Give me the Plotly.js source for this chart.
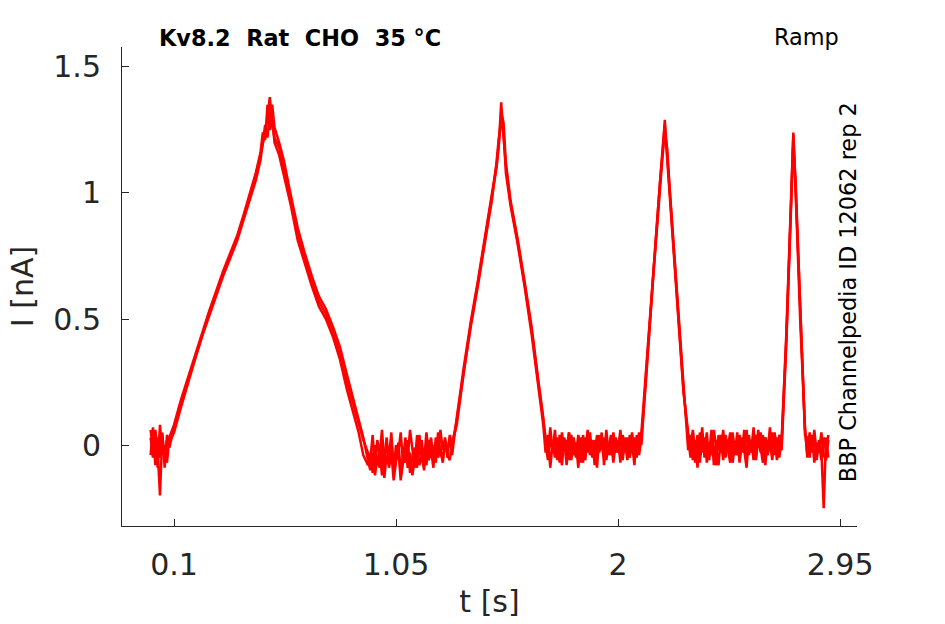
<!DOCTYPE html>
<html>
<head>
<meta charset="utf-8">
<script src="https://cdn.plot.ly/plotly-3.0.1.min.js"></script>
<style>
  html, body { margin: 0; padding: 0; background: #fff; }
  #plot { width: 945px; height: 624px; }
</style>
</head>
<body>
<div id="plot"></div>
<script>
// time samples (s): dense on the flat parts, sparser on the ramps
var t = [0.00, 0.01, 0.02, 0.03, 0.04, 0.05, 0.06, 0.07, 0.08,
  0.10, 0.13, 0.16, 0.19, 0.22, 0.25, 0.28, 0.31, 0.34, 0.37, 0.40, 0.43,
  0.45, 0.47, 0.48, 0.49, 0.50, 0.51, 0.52, 0.53, 0.55, 0.57,
  0.60, 0.63, 0.66, 0.69, 0.72, 0.75, 0.78, 0.81, 0.84, 0.87, 0.89, 0.91, 0.93,
  0.94, 0.95, 0.96, 0.97, 0.98, 0.99, 1.00, 1.01, 1.02, 1.03, 1.04, 1.05, 1.06, 1.07, 1.08, 1.09, 1.10, 1.11,
  1.12, 1.13, 1.14, 1.15, 1.16, 1.17, 1.18, 1.19, 1.20, 1.21, 1.22, 1.23, 1.24, 1.25, 1.26, 1.27, 1.28, 1.29,
  1.31, 1.34, 1.37, 1.40, 1.43, 1.46, 1.48, 1.49, 1.50, 1.51, 1.52, 1.54, 1.57, 1.60, 1.63, 1.66, 1.68,
  1.69, 1.70, 1.71, 1.72, 1.73, 1.74, 1.75, 1.76, 1.77, 1.78, 1.79, 1.80, 1.81, 1.82, 1.83, 1.84, 1.85, 1.86, 1.87, 1.88, 1.89,
  1.90, 1.91, 1.92, 1.93, 1.94, 1.95, 1.96, 1.97, 1.98, 1.99, 2.00, 2.01, 2.02, 2.03, 2.04, 2.05, 2.06, 2.07, 2.08, 2.09, 2.10,
  2.12, 2.15, 2.18, 2.19, 2.20, 2.21, 2.22, 2.25, 2.28, 2.30,
  2.31, 2.32, 2.33, 2.34, 2.35, 2.36, 2.37, 2.38, 2.39, 2.40, 2.41, 2.42, 2.43, 2.44, 2.45, 2.46, 2.47, 2.48, 2.49, 2.50,
  2.51, 2.52, 2.53, 2.54, 2.55, 2.56, 2.57, 2.58, 2.59, 2.60, 2.61, 2.62, 2.63, 2.64, 2.65, 2.66, 2.67, 2.68, 2.69, 2.70,
  2.72, 2.74, 2.75, 2.76, 2.78, 2.80,
  2.81, 2.82, 2.83, 2.84, 2.85, 2.86, 2.87, 2.88, 2.89, 2.90];

// current (nA) of the three overlaid sweeps
var sweep1 = [0.03, -0.05, 0.06, -0.02, -0.20, 0.04, -0.06, 0.02, -0.01,
  0.07, 0.17, 0.26, 0.35, 0.44, 0.52, 0.60, 0.68, 0.75, 0.82, 0.91, 1.00,
  1.07, 1.15, 1.19, 1.24, 1.30, 1.38, 1.27, 1.22, 1.18, 1.10,
  0.97, 0.83, 0.74, 0.65, 0.57, 0.52, 0.45, 0.36, 0.25, 0.15, 0.08, 0.02, -0.03,
  -0.06, 0.04, -0.09, 0.02, -0.04, 0.06, -0.08, 0.01, -0.05, 0.05, -0.10, 0.00, -0.03, 0.05, -0.07, 0.03, -0.05, 0.06,
  -0.02, -0.09, 0.04, -0.04, 0.02, -0.07, 0.05, -0.03, 0.03, -0.06, 0.01, -0.04, 0.06, -0.02, 0.03, -0.05, 0.04, 0.00,
  0.10, 0.30, 0.48, 0.64, 0.81, 0.98, 1.10, 1.19, 1.36, 1.22, 1.11, 0.96, 0.81, 0.64, 0.46, 0.24, 0.10,
  0.05, -0.04, 0.07, -0.02, 0.03, -0.06, 0.04, -0.03, 0.02, -0.08, 0.05, -0.01, 0.03, -0.05, 0.01, -0.07, 0.04, -0.02, 0.06, -0.04, 0.00,
  -0.06, 0.03, -0.03, 0.05, -0.08, 0.02, -0.01, 0.04, -0.05, 0.03, -0.02, 0.06, -0.04, 0.01, -0.06, 0.04, -0.02, 0.03, -0.05, 0.05, 0.00,
  0.28, 0.68, 1.05, 1.15, 1.29, 1.16, 1.02, 0.62, 0.22, 0.03,
  -0.05, 0.06, -0.03, 0.04, -0.07, 0.02, -0.02, 0.05, -0.06, 0.03, -0.01, -0.08, 0.04, -0.03, 0.06, -0.05, 0.02, -0.04, 0.05, -0.02,
  0.03, -0.07, 0.01, -0.03, 0.06, -0.04, 0.02, -0.06, 0.04, -0.01, 0.05, -0.05, 0.03, -0.02, 0.07, -0.04, 0.02, -0.06, 0.04, 0.01,
  0.42, 0.95, 1.24, 1.02, 0.50, 0.06,
  -0.04, 0.05, -0.03, 0.04, -0.06, 0.02, -0.02, -0.25, 0.03, -0.05];

var sweep2 = [-0.04, 0.07, -0.08, 0.03, -0.05, 0.05, -0.09, 0.04, 0.01,
  0.05, 0.15, 0.25, 0.34, 0.43, 0.51, 0.59, 0.67, 0.74, 0.81, 0.90, 0.99,
  1.05, 1.13, 1.20, 1.27, 1.22, 1.31, 1.35, 1.26, 1.20, 1.13,
  0.99, 0.86, 0.76, 0.67, 0.59, 0.54, 0.47, 0.39, 0.28, 0.17, 0.10, 0.03, -0.06,
  -0.10, -0.03, -0.12, -0.05, -0.09, 0.01, -0.13, -0.04, -0.08, 0.02, -0.11, -0.06, -0.02, -0.14, -0.07, 0.00, -0.09, -0.03,
  -0.12, -0.05, 0.01, -0.08, -0.04, -0.10, 0.00, -0.06, -0.02, -0.09, 0.03, -0.05, -0.01, -0.07, 0.02, -0.04, -0.06, 0.01,
  0.08, 0.29, 0.47, 0.63, 0.80, 0.97, 1.12, 1.22, 1.27, 1.25, 1.08, 0.95, 0.80, 0.63, 0.44, 0.22, 0.08,
  -0.03, 0.04, -0.09, 0.01, -0.05, 0.03, -0.07, 0.05, -0.02, 0.02, -0.06, 0.04, -0.04, 0.01, -0.09, 0.03, -0.01, -0.06, 0.05, -0.03, 0.02,
  -0.08, 0.04, -0.02, 0.00, -0.05, 0.06, -0.04, 0.02, -0.07, 0.01, -0.03, 0.04, -0.06, 0.03, -0.01, -0.05, 0.05, -0.03, 0.02, -0.04, 0.03,
  0.26, 0.66, 1.04, 1.14, 1.24, 1.18, 1.03, 0.63, 0.23, -0.02,
  0.04, -0.06, 0.02, -0.09, 0.05, -0.03, 0.03, -0.07, 0.01, -0.04, 0.06, -0.02, -0.08, 0.03, -0.05, 0.04, -0.01, -0.07, 0.02, -0.04,
  0.05, -0.06, 0.03, -0.02, -0.09, 0.04, -0.03, 0.02, -0.05, 0.06, -0.01, -0.07, 0.03, -0.04, 0.01, -0.06, 0.05, -0.03, 0.02, -0.02,
  0.40, 0.93, 1.20, 1.04, 0.52, 0.04,
  0.03, -0.05, 0.04, -0.07, 0.01, -0.03, 0.05, -0.04, -0.06, 0.02];

var sweep3 = [0.06, -0.02, 0.02, -0.09, 0.08, -0.03, 0.00, -0.07, 0.03,
  0.08, 0.18, 0.27, 0.36, 0.45, 0.53, 0.61, 0.69, 0.76, 0.83, 0.92, 1.01,
  1.08, 1.16, 1.24, 1.21, 1.35, 1.25, 1.30, 1.20, 1.15, 1.07,
  0.95, 0.81, 0.72, 0.63, 0.55, 0.50, 0.43, 0.34, 0.22, 0.12, 0.05, -0.04, -0.08,
  -0.04, -0.11, 0.00, -0.08, -0.02, -0.12, -0.05, 0.03, -0.09, -0.03, -0.14, -0.06, 0.01, -0.10, -0.04, -0.07, 0.02, -0.11,
  -0.05, -0.01, -0.09, 0.04, -0.06, -0.03, -0.08, 0.02, -0.05, 0.00, -0.07, 0.05, -0.03, -0.06, 0.01, -0.02, 0.03, -0.04,
  0.11, 0.31, 0.49, 0.65, 0.82, 0.99, 1.11, 1.20, 1.32, 1.28, 1.12, 0.97, 0.82, 0.65, 0.47, 0.25, 0.11,
  0.01, -0.06, 0.04, -0.03, 0.06, -0.05, 0.00, -0.08, 0.03, -0.02, 0.05, -0.06, 0.02, -0.04, 0.04, -0.01, -0.07, 0.03, -0.03, 0.05, -0.05,
  0.02, -0.09, 0.04, -0.02, 0.03, -0.06, 0.01, -0.04, 0.05, -0.03, 0.02, -0.07, 0.04, -0.01, 0.03, -0.05, 0.01, -0.08, 0.04, -0.02, 0.05,
  0.30, 0.70, 1.06, 1.17, 1.27, 1.14, 1.01, 0.61, 0.21, 0.05,
  -0.02, 0.05, -0.07, 0.03, -0.04, 0.07, -0.05, 0.01, -0.03, 0.06, -0.08, 0.02, -0.02, 0.04, -0.06, 0.03, -0.01, 0.05, -0.07, 0.00,
  -0.04, 0.04, -0.03, 0.06, -0.05, 0.02, -0.02, 0.07, -0.06, 0.03, -0.03, 0.04, -0.08, 0.02, -0.01, 0.05, -0.04, 0.03, -0.05, 0.02,
  0.44, 0.97, 1.23, 1.00, 0.48, 0.07,
  -0.05, 0.04, -0.02, 0.06, -0.04, 0.01, -0.06, 0.03, -0.02, 0.04];

var sweeps = [sweep1, sweep2, sweep3];

var x_ticks = [0.1, 1.05, 2, 2.95];
var x_labels = ['0.1', '1.05', '2', '2.95'];
var y_ticks = [0, 0.5, 1, 1.5];
var y_labels = ['0', '0.5', '1', '1.5'];

var data = [];
for (var i = 0; i < sweeps.length; i++) {
  data.push({
    x: t,
    y: sweeps[i],
    type: 'scatter',
    mode: 'lines',
    line: {color: '#ff0000', width: 2.5},
    hoverinfo: 'skip'
  });
}

var axis_font = {family: 'DejaVu Sans', size: 30, color: '#262626'};
var note_font = {family: 'DejaVu Sans', size: 22.4, color: '#000000'};
var nb = '\u00a0\u00a0';

var layout = {
  width: 945,
  height: 624,
  margin: {l: 122, r: 88, t: 47, b: 98},
  paper_bgcolor: '#ffffff',
  plot_bgcolor: '#ffffff',
  showlegend: false,
  font: {family: 'DejaVu Sans', color: '#262626'},
  xaxis: {
    range: [-0.1225, 3.0225],
    tickvals: x_ticks,
    ticktext: x_labels,
    ticks: 'inside',
    ticklen: 7,
    tickcolor: '#262626',
    tickfont: axis_font,
    ticklabelstandoff: 12,
    showline: true,
    linecolor: '#262626',
    linewidth: 1,
    showgrid: false,
    zeroline: false,
    title: {text: 't [s]', font: axis_font, standoff: 9}
  },
  yaxis: {
    range: [-0.321, 1.579],
    tickvals: y_ticks,
    ticktext: y_labels,
    ticks: 'inside',
    ticklen: 7,
    tickcolor: '#262626',
    tickfont: axis_font,
    ticklabelstandoff: 14,
    showline: true,
    linecolor: '#262626',
    linewidth: 1,
    showgrid: false,
    zeroline: false,
    title: {text: 'I [nA]', font: axis_font, standoff: 10}
  },
  annotations: [
    {
      text: '<b>Kv8.2' + nb + 'Rat' + nb + 'CHO' + nb + '35 °C</b>',
      xref: 'paper', yref: 'paper',
      x: 0.047, y: 1.019,
      xanchor: 'left', yanchor: 'middle',
      showarrow: false,
      font: note_font
    },
    {
      text: 'Ramp',
      xref: 'paper', yref: 'paper',
      x: 0.978, y: 1.021,
      xanchor: 'right', yanchor: 'middle',
      showarrow: false,
      font: note_font
    },
    {
      text: 'BBP Channelpedia ID 12062 rep 2',
      xref: 'paper', yref: 'paper',
      x: 0.988, y: 0.4885,
      xanchor: 'center', yanchor: 'middle',
      textangle: -90,
      showarrow: false,
      font: note_font
    }
  ]
};

Plotly.newPlot('plot', data, layout, {staticPlot: true});
</script>
</body>
</html>
